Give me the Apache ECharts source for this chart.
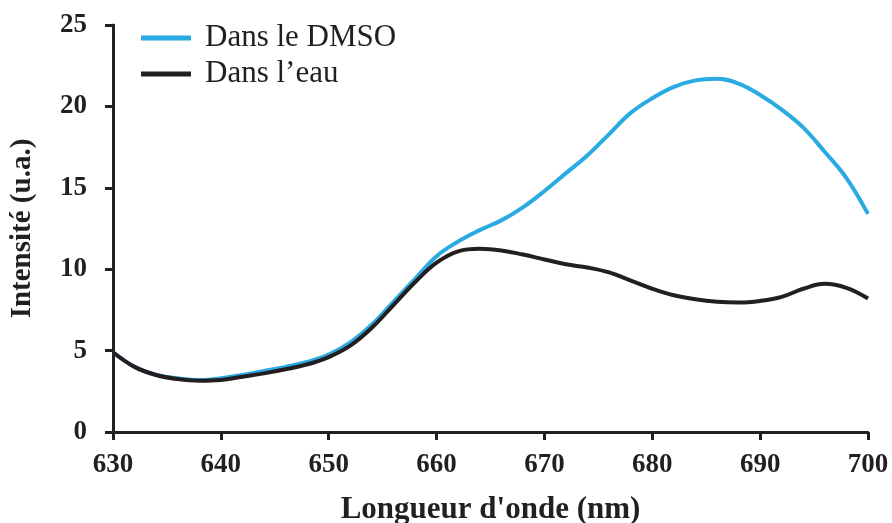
<!DOCTYPE html>
<html>
<head>
<meta charset="utf-8">
<script src="https://cdn.jsdelivr.net/npm/echarts@6/dist/echarts.min.js"></script>
<style>
  html, body { margin: 0; padding: 0; background: #fff; }
  #chart { width: 892px; height: 523px; }
</style>
</head>
<body>
<div id="chart"></div>
<script>
// longueur d'onde (nm)
var wavelength = [630, 632, 634, 636, 638, 640, 642, 644, 646, 648, 650, 652, 654, 656, 658, 660, 662, 664,
    666, 668, 670, 672, 674, 676, 678, 680, 682, 684, 686, 688, 690, 692, 694, 696, 698, 700];
// intensite dans le DMSO
var dmso = [4.9, 4.0, 3.5, 3.3, 3.2, 3.3, 3.5, 3.75, 4.0, 4.3, 4.75, 5.5, 6.6, 8.0, 9.4, 10.8, 11.7, 12.4,
    13.0, 13.8, 14.8, 15.9, 17.0, 18.3, 19.6, 20.5, 21.2, 21.6, 21.7, 21.4, 20.7, 19.8, 18.7, 17.2, 15.6, 13.4];
// intensite dans l'eau
var eau = [4.9, 4.0, 3.5, 3.25, 3.15, 3.2, 3.4, 3.6, 3.85, 4.15, 4.6, 5.3, 6.4, 7.8, 9.2, 10.4, 11.1, 11.25,
    11.15, 10.9, 10.6, 10.3, 10.1, 9.8, 9.3, 8.8, 8.4, 8.15, 8.0, 7.95, 8.05, 8.3, 8.8, 9.1, 8.85, 8.2];

var seriesNames = ["Dans le DMSO", "Dans l\u2019eau"];

function pairs(xs, ys) {
    var out = [];
    for (var i = 0; i < xs.length; i++) {
        out.push([xs[i], ys[i]]);
    }
    return out;
}

var axisColor = "#231f20";
var font = "'Liberation Serif', 'Times New Roman', serif";

var myChart = echarts.init(document.getElementById('chart'));
var option = {
    animation: false,
    grid: { left: 113, right: 24, top: 25, bottom: 91, outerBoundsMode: 'none' },
    legend: {
        orient: 'vertical',
        left: 141,
        top: 22,
        padding: 0,
        icon: 'rect',
        itemWidth: 50,
        itemHeight: 5,
        itemGap: 4,
        textStyle: {
            fontFamily: font,
            fontSize: 31,
            color: axisColor,
            lineHeight: 32,
            padding: [0, 0, 0, 9]
        },
        data: seriesNames
    },
    xAxis: {
        type: 'value',
        min: 630,
        max: 700,
        interval: 10,
        name: "Longueur d'onde (nm)",
        nameLocation: 'middle',
        nameGap: 62,
        nameTextStyle: { fontFamily: font, fontSize: 31, fontWeight: 'bold', color: axisColor },
        axisLine: { lineStyle: { color: axisColor, width: 3 } },
        axisTick: { inside: false, length: 8, lineStyle: { color: axisColor, width: 3 } },
        axisLabel: { fontFamily: font, fontSize: 27, fontWeight: 'bold', color: axisColor, margin: 20 },
        splitLine: { show: false }
    },
    yAxis: {
        type: 'value',
        min: 0,
        max: 25,
        interval: 5,
        name: "Intensité (u.a.)",
        nameLocation: 'middle',
        nameGap: 76,
        nameRotate: 90,
        nameTextStyle: { fontFamily: font, fontSize: 29, fontWeight: 'bold', color: axisColor },
        axisLine: { show: true, lineStyle: { color: axisColor, width: 3 } },
        axisTick: { show: true, inside: false, length: 8, lineStyle: { color: axisColor, width: 3 } },
        axisLabel: { fontFamily: font, fontSize: 27, fontWeight: 'bold', color: axisColor, margin: 26 },
        splitLine: { show: false }
    },
    series: [
        {
            name: seriesNames[0],
            type: 'line',
            data: pairs(wavelength, dmso),
            smooth: 0.4,
            symbol: 'none',
            lineStyle: { color: '#2aaae2', width: 4 },
            itemStyle: { color: '#2aaae2' }
        },
        {
            name: seriesNames[1],
            type: 'line',
            data: pairs(wavelength, eau),
            smooth: 0.4,
            symbol: 'none',
            lineStyle: { color: axisColor, width: 4 },
            itemStyle: { color: axisColor }
        }
    ]
};
myChart.setOption(option);
</script>
</body>
</html>
